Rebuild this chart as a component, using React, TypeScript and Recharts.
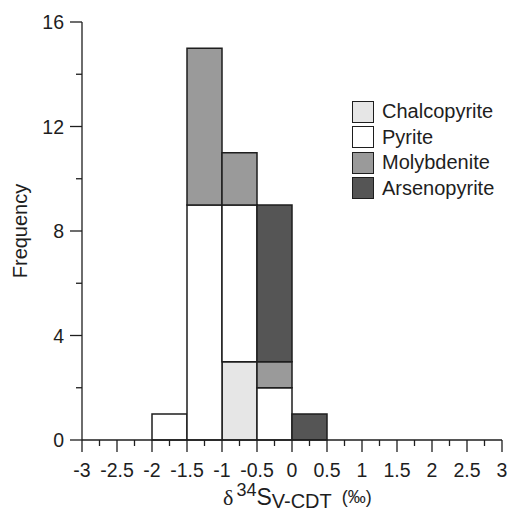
import React from 'react';
import { BarChart, Bar, XAxis, YAxis, Legend } from 'recharts';

// Histogram bins (0.5 ‰ wide), given by their centres
const binCenters = [-2.75, -2.25, -1.75, -1.25, -0.75, -0.25, 0.25, 0.75, 1.25, 1.75, 2.25, 2.75];

// Counts per bin for each mineral
const chalcopyrite = [0, 0, 0, 0, 3, 0, 0, 0, 0, 0, 0, 0];
const pyrite = [0, 0, 1, 9, 6, 2, 0, 0, 0, 0, 0, 0];
const molybdenite = [0, 0, 0, 6, 2, 1, 0, 0, 0, 0, 0, 0];
const arsenopyrite = [0, 0, 0, 0, 0, 6, 1, 0, 0, 0, 0, 0];

// Axis ticks
const xTicks = [-3, -2.75, -2.5, -2.25, -2, -1.75, -1.5, -1.25, -1, -0.75, -0.5, -0.25, 0,
  0.25, 0.5, 0.75, 1, 1.25, 1.5, 1.75, 2, 2.25, 2.5, 2.75, 3];
const xLabels = [-3, -2.5, -2, -1.5, -1, -0.5, 0, 0.5, 1, 1.5, 2, 2.5, 3];
const yTicks = [0, 2, 4, 6, 8, 10, 12, 14, 16];
const yLabels = [0, 4, 8, 12, 16];

const series = [
  { key: 'Chalcopyrite', values: chalcopyrite, fill: '#e6e6e6' },
  { key: 'Pyrite', values: pyrite, fill: '#ffffff' },
  { key: 'Molybdenite', values: molybdenite, fill: '#9a9a9a' },
  { key: 'Arsenopyrite', values: arsenopyrite, fill: '#555555' },
];

const data = binCenters.map((center, i) => {
  const row: Record<string, number> = { center };
  series.forEach((s) => {
    row[s.key] = s.values[i];
  });
  return row;
});

const FONT = '"Liberation Sans", Arial, sans-serif';
const INK = '#1e1e1e';
const TICK_FONT = 19.5;

const XTick = (props: any) => {
  const { x, y, payload } = props;
  const v = payload.value;
  const major = xLabels.includes(v);
  return (
    <g>
      <line x1={x} x2={x} y1={y} y2={y + (major ? 12 : 6)} stroke={INK} strokeWidth={1.3} />
      {major && (
        <text x={x} y={y + 37} textAnchor="middle" fontFamily={FONT} fontSize={TICK_FONT} fill={INK}>
          {String(v)}
        </text>
      )}
    </g>
  );
};

const YTick = (props: any) => {
  const { x, y, payload } = props;
  const v = payload.value;
  const major = yLabels.includes(v);
  return (
    <g>
      <line x1={x} x2={x - (major ? 12 : 6)} y1={y} y2={y} stroke={INK} strokeWidth={1.3} />
      {major && (
        <text x={x - 18} y={y + 7} textAnchor="end" fontFamily={FONT} fontSize={TICK_FONT} fill={INK}>
          {String(v)}
        </text>
      )}
    </g>
  );
};

const YTitle = (props: any) => {
  const vb = props.viewBox;
  const cx = vb.x - 2;
  const cy = vb.y + vb.height / 2;
  return (
    <text
      x={cx}
      y={cy}
      transform={`rotate(-90 ${cx} ${cy})`}
      textAnchor="middle"
      dominantBaseline="central"
      fontFamily={FONT}
      fontSize={20}
      fill={INK}
    >
      Frequency
    </text>
  );
};

const XTitle = (props: any) => {
  const vb = props.viewBox;
  const x0 = vb.x + vb.width / 2 - 69;
  const base = vb.y + 65;
  return (
    <text x={x0} y={base} fontFamily={FONT} fill={INK}>
      <tspan fontFamily='"Liberation Serif", serif' fontSize={22}>δ</tspan>
      <tspan dx={3} dy={-9} fontSize={18}>34</tspan>
      <tspan dy={9} fontSize={23}>S</tspan>
      <tspan dy={3} fontSize={20}>V-CDT</tspan>
      <tspan dx={10} dy={-5} fontSize={18}>(‰)</tspan>
    </text>
  );
};

const LegendBox = () => (
  <div style={{ fontFamily: FONT, fontSize: 20, color: INK }}>
    {series.map((s) => (
      <div key={s.key} style={{ display: 'flex', alignItems: 'center', height: 25.5 }}>
        <div
          style={{
            boxSizing: 'border-box',
            width: 22,
            height: 22,
            background: s.fill,
            border: `1.5px solid ${INK}`,
            marginRight: 8,
          }}
        />
        <span>{s.key}</span>
      </div>
    ))}
  </div>
);

export default function App() {
  return (
    <div style={{ position: 'absolute', left: 0, top: 0, width: 507, height: 515, background: '#fff' }}>
      <BarChart
        width={507}
        height={515}
        data={data}
        margin={{ top: 22, right: 5, left: 22, bottom: 35 }}
        barCategoryGap={0}
        barGap={0}
      >
        <XAxis
          dataKey="center"
          type="number"
          domain={[-3, 3]}
          ticks={xTicks}
          interval={0}
          height={40}
          tickSize={0}
          tickMargin={0}
          tick={<XTick />}
          axisLine={{ stroke: INK, strokeWidth: 1.3 }}
          tickLine={false}
          label={{ content: <XTitle /> }}
        />
        <YAxis
          type="number"
          domain={[0, 16]}
          ticks={yTicks}
          interval={0}
          width={60}
          tickSize={0}
          tickMargin={0}
          tick={<YTick />}
          axisLine={{ stroke: INK, strokeWidth: 1.3 }}
          tickLine={false}
          label={{ content: <YTitle /> }}
        />
        <Legend
          layout="vertical"
          align="center"
          verticalAlign="middle"
          content={<LegendBox />}
          wrapperStyle={{ left: 352, top: 99, width: 'auto' }}
        />
        {series.map((s) => (
          <Bar
            key={s.key}
            dataKey={s.key}
            stackId="minerals"
            fill={s.fill}
            stroke={INK}
            strokeWidth={1.5}
            isAnimationActive={false}
          />
        ))}
      </BarChart>
    </div>
  );
}
